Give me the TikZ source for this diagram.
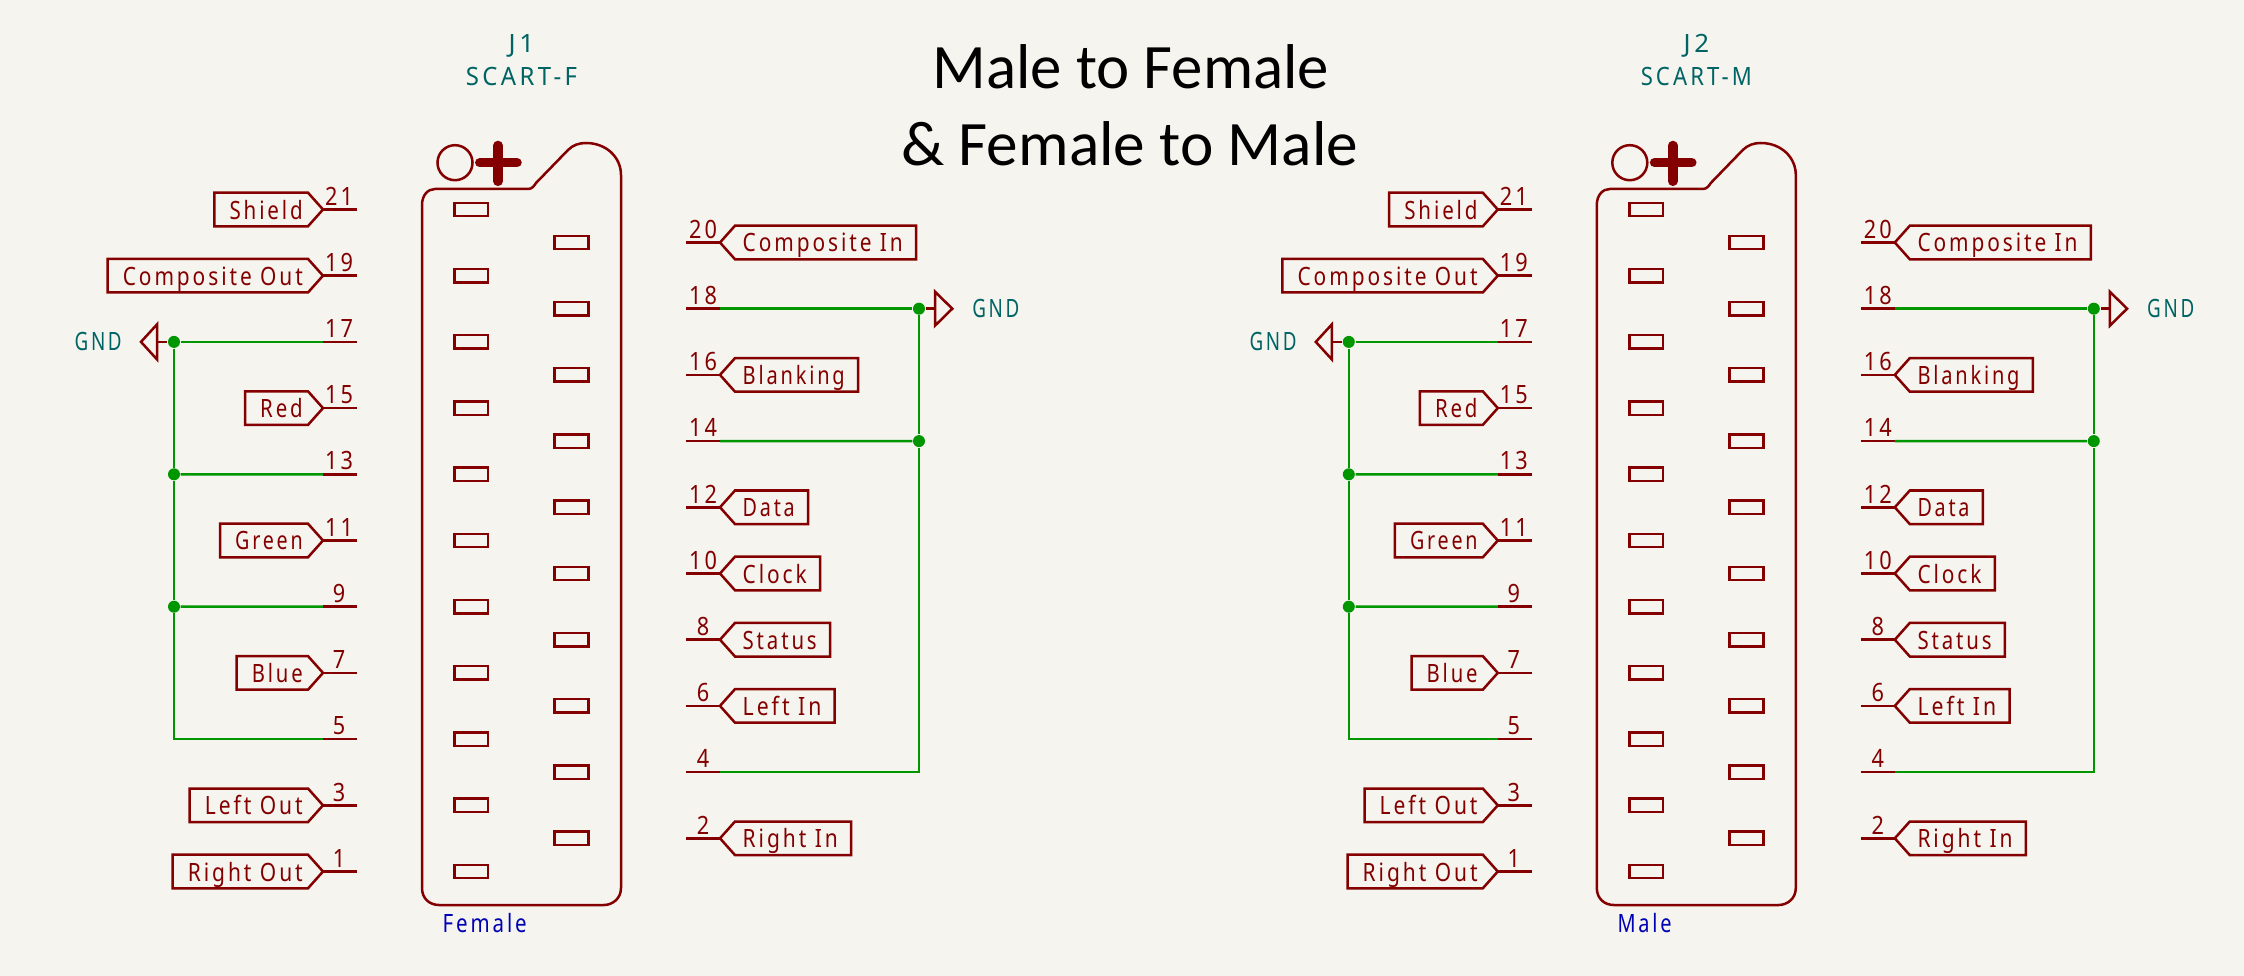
\documentclass[tikz,border=0pt]{standalone}
\usepackage{fontspec}
\usepackage{graphicx}
\setmainfont{Noto Sans}[LetterSpace=14]
\newfontfamily\titlefont{Carlito}
\definecolor{pinred}{HTML}{840000}
\definecolor{wiregreen}{HTML}{009600}
\definecolor{refteal}{HTML}{006464}
\definecolor{noteblue}{HTML}{0000B4}
\definecolor{paper}{HTML}{F5F4EF}
\newcommand{\kfont}{\fontsize{7.17}{9}\selectfont}
\newcommand{\fitw}[2]{\pgfmathsetlengthmacro{\fitlen}{(#1)*0.28453}\resizebox{\fitlen}{\height}{#2}}
\newcommand{\numtext}[1]{\scalebox{0.86}[1]{#1}}
\newcommand{\leftpin}[1]{\pgfmathsetmacro{\yy}{209.5+33.1*(21-#1)}%
  \coordinate (p#1in) at (357,\yy); \coordinate (p#1out) at (323,\yy);
  \draw[part] (p#1in) -- (p#1out);
  \node[pinnum] (n#1) at (339,\yy-4.3) {\numtext{#1}};}
\newcommand{\rightpin}[1]{\pgfmathsetmacro{\yy}{242.5+33.1*(20-#1)}%
  \coordinate (p#1in) at (686,\yy); \coordinate (p#1out) at (720,\yy);
  \draw[part] (p#1in) -- (p#1out);
  \node[pinnum] (n#1) at (703,\yy-4.3) {\numtext{#1}};}
\newcommand{\leftlabel}[3]{\leftpin{#1}%
  \draw[part] (p#1out) -- (308,\yy-16.8) -- (#2,\yy-16.8) -- (#2,\yy+16.8) -- (308,\yy+16.8) -- cycle;
  \node[kitext,anchor=base west] (lab#1) at ({#2+14.5},\yy+9.5) {\fitw{302-#2-14.5}{#3}};}
\newcommand{\rightlabel}[3]{\rightpin{#1}%
  \draw[part] (p#1out) -- (735,\yy-16.8) -- (#2,\yy-16.8) -- (#2,\yy+16.8) -- (735,\yy+16.8) -- cycle;
  \node[kitext,anchor=base west] (lab#1) at (742,\yy+9.5) {\fitw{#2-14-742}{#3}};}
\newcommand{\scartsheet}[4]{%
  % reference texts
  \node[reftext,anchor=base] (ref) at (521.5,52.7) {\fitw{25.5}{#1}};
  \node[reftext,anchor=base] (val) at (521.5,86) {\fitw{111}{#2}};
  \node[notetext,anchor=base west] (note) at (442,932.7) {\fitw{#4}{#3}};
  % connector outline
  \draw[part] (435,189) -- (528,189) .. controls (532,189) and (534,186) .. (536,183)
    -- (568,150) .. controls (573,145) and (579,143) .. (586,143)
    .. controls (606,143) and (621,157) .. (621,175) -- (621,888)
    .. controls (621,899) and (612,905) .. (604,905) -- (439,905)
    .. controls (430,905) and (422,899) .. (422,888) -- (422,205)
    .. controls (422,195) and (428,189) .. (435,189) -- cycle;
  \draw[part] (455,162.7) circle[radius=0.175cm];
  \draw[plusbar] (479.8,162.7) -- (517,162.7);
  \draw[plusbar] (498,145.5) -- (498,181.3);
  \foreach \k in {0,...,10}{
    \draw[part] (454.7,{209.5+66.2*\k-6.7}) rectangle (488,{209.5+66.2*\k+6.7});}
  \foreach \k in {0,...,9}{
    \draw[part] (554.7,{242.5+66.2*\k-6.7}) rectangle (588.5,{242.5+66.2*\k+6.7});}
  % left side
  \leftlabel{21}{214.3}{Shield}
  \leftlabel{19}{107.6}{Composite Out}
  \leftpin{17}
  \leftlabel{15}{245}{Red}
  \leftpin{13}
  \leftlabel{11}{220}{Green}
  \leftpin{9}
  \leftlabel{7}{236.7}{Blue}
  \leftpin{5}
  \leftlabel{3}{189.7}{Left Out}
  \leftlabel{1}{172.7}{Right Out}
  % right side
  \rightlabel{20}{916}{Composite In}
  \rightpin{18}
  \rightlabel{16}{858}{Blanking}
  \rightpin{14}
  \rightlabel{12}{808}{Data}
  \rightlabel{10}{820}{Clock}
  \rightlabel{8}{830}{Status}
  \rightlabel{6}{834.7}{Left In}
  \rightpin{4}
  \rightlabel{2}{851}{Right In}
  % left ground net
  \node[junction] (j17) at (174,341.9) {};
  \node[junction] (j13) at (174,474.3) {};
  \node[junction] (j9) at (174,606.7) {};
  \coordinate (c5) at (j9 |- p5out);
  \draw[wire] (p17out) -- (j17);
  \draw[wire] (p13out) -- (j13);
  \draw[wire] (p9out) -- (j9);
  \draw[wire] (j17) -- (j13);
  \draw[wire] (j13) -- (j9);
  \draw[wire] (j9) -- (c5) -- (p5out);
  \coordinate (gl) at (157,341.9);
  \draw[part] (gl) -- (j17);
  \draw[part] (gl) ++(0,-17.5) -- ++(-16,17.5) -- ++(16,17.5) -- cycle;
  \node[reftext,anchor=base west] (gndl) at (74,350.8) {\fitw{47}{GND}};
  % right ground net
  \node[junction] (j18) at (919,308.7) {};
  \node[junction] (j14) at (919,441.1) {};
  \coordinate (c4) at (j14 |- p4out);
  \draw[wire] (p18out) -- (j18);
  \draw[wire] (p14out) -- (j14);
  \draw[wire] (j18) -- (j14);
  \draw[wire] (j14) -- (c4) -- (p4out);
  \coordinate (gr) at (935,308.7);
  \draw[part] (gr) -- (j18);
  \draw[part] (gr) ++(0,-17) -- ++(17.3,17) -- ++(-17.3,17) -- cycle;
  \node[reftext,anchor=base west] (gndr) at (971.7,317.5) {\fitw{47}{GND}};
}
\tikzset{
  x=0.01cm,y=-0.01cm,
  part/.style={draw=pinred,line width=0.025cm},
  plusbar/.style={draw=pinred,line width=0.095cm,line cap=round},
  wire/.style={draw=wiregreen,line width=0.025cm},
  junction/.style={circle,fill=wiregreen,inner sep=0pt,minimum size=0.12cm},
  kitext/.style={inner sep=0pt,text=pinred,font=\kfont},
  pinnum/.style={inner sep=0pt,anchor=base,text=pinred,font=\kfont},
  reftext/.style={inner sep=0pt,text=refteal,font=\kfont},
  notetext/.style={inner sep=0pt,text=noteblue,font=\kfont},
  titletext/.style={inner sep=0pt,anchor=base west,text=black,font=\titlefont\fontsize{18}{22}\selectfont},
}
\begin{document}
\begin{tikzpicture}
  \useasboundingbox (0,0) rectangle (2244,976);
  \fill[paper] (0,0) rectangle (2244,976);
  \node[titletext] (title1) at (931.7,88.5) {\fitw{396.5}{Male to Female}};
  \node[titletext] (title2) at (900.7,166) {\fitw{456.5}{\& Female to Male}};
  \begin{scope}[name prefix=J1-]
    \scartsheet{J1}{SCART-F}{Female}{84}
  \end{scope}
  \begin{scope}[shift={(1174.8,0)},name prefix=J2-]
    \scartsheet{J2}{SCART-M}{Male}{54}
  \end{scope}
\end{tikzpicture}
\end{document}
